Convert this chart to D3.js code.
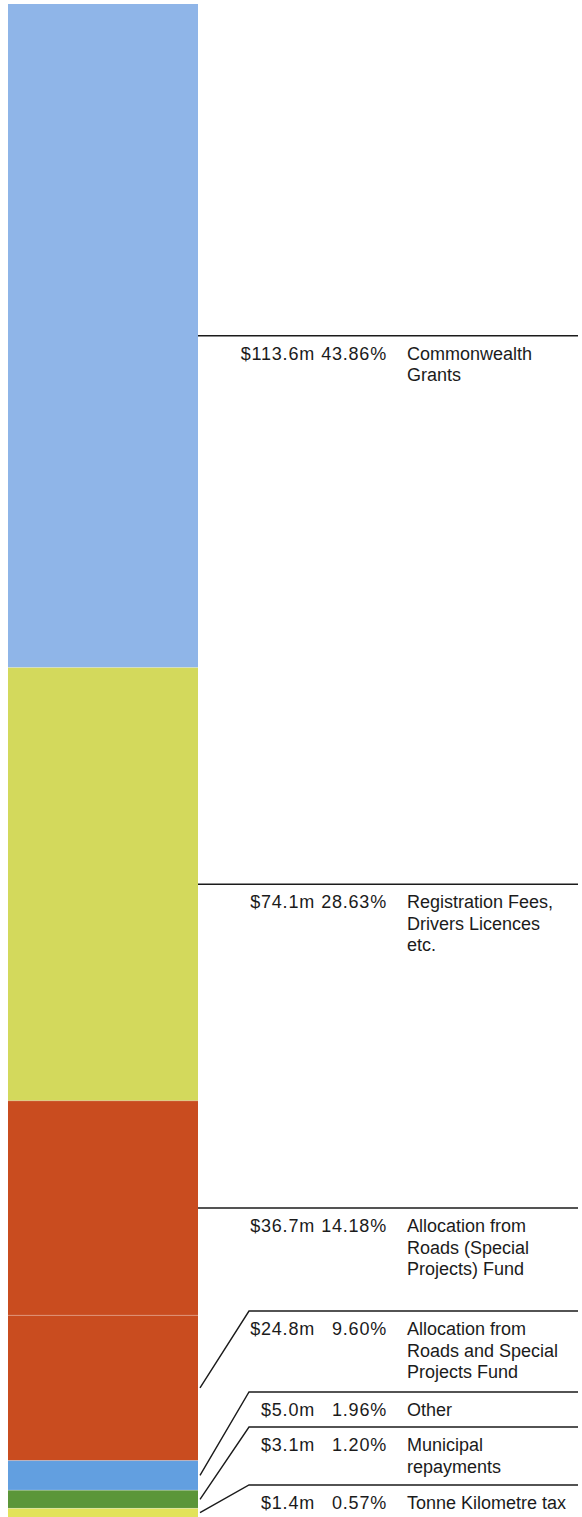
<!DOCTYPE html>
<html>
<head>
<meta charset="utf-8">
<script src="https://cdn.jsdelivr.net/npm/d3@7"></script>
<style>
  html, body { margin: 0; padding: 0; background: #ffffff; }
  svg { display: block; }
  text { font-family: "Liberation Sans", Arial, Helvetica, sans-serif; fill: #1b1b1b; }
</style>
</head>
<body>
<svg id="chart" width="582" height="1517"></svg>
<script>
// ---- data ----
const categories = [
  "Commonwealth\nGrants",
  "Registration Fees,\nDrivers Licences\netc.",
  "Allocation from\nRoads (Special\nProjects) Fund",
  "Allocation from\nRoads and Special\nProjects Fund",
  "Other",
  "Municipal\nrepayments",
  "Tonne Kilometre tax"
];
const amounts = [113.6, 74.1, 36.7, 24.8, 5.0, 3.1, 1.4];          // $m
const percents = [43.86, 28.63, 14.18, 9.60, 1.96, 1.20, 0.57];     // %
const colors = ["#8fb5e8", "#d3d95c", "#c94c1f", "#c94c1f", "#629fe0", "#5b9639", "#e2e35a"];

// ---- layout ----
const W = 582, H = 1517;
const barX0 = 8, barX1 = 198;
const y = d3.scaleLinear().domain([0, 100]).range([4, 1517]);
const lineEnd = 578;
const amountRight = 315, pctRight = 387, nameX = 407;
const lineH = 21.5, baseOff = 24;
const diagDX = 51;

const svg = d3.select("#chart");

let cum = 0;
const segs = percents.map((p, i) => {
  const s = { i, start: cum, end: cum + p };
  cum += p;
  return s;
});

// bars
svg.append("g").selectAll("rect").data(segs).join("rect")
  .attr("x", barX0)
  .attr("y", d => y(d.start))
  .attr("width", barX1 - barX0)
  .attr("height", d => y(d.end) - y(d.start))
  .attr("fill", d => colors[d.i]);

// faint seams between segments
svg.append("g").selectAll("line").data(segs.slice(1)).join("line")
  .attr("x1", barX0).attr("x2", barX1)
  .attr("y1", d => y(d.start)).attr("y2", d => y(d.start))
  .attr("stroke", "#ffffff").attr("stroke-opacity", 0.25).attr("stroke-width", 1);

// label positions: stack from bottom upwards
const nLines = categories.map(c => c.split("\n").length);
const mids = segs.map(d => y((d.start + d.end) / 2));
const lineY = new Array(segs.length);
let limit = H + 3;
for (let i = segs.length - 1; i >= 0; i--) {
  const need = 12 + 23 * nLines[i];
  lineY[i] = Math.min(mids[i], limit - need);
  limit = lineY[i];
}

const labels = svg.append("g").selectAll("g").data(segs).join("g");

labels.append("path")
  .attr("d", d => {
    const ly = lineY[d.i], my = mids[d.i];
    if (Math.abs(ly - my) < 1) {
      return `M${barX1},${my}H${lineEnd}`;
    }
    return `M${barX1 + 2},${my}L${barX1 + diagDX},${ly}H${lineEnd}`;
  })
  .attr("fill", "none")
  .attr("stroke", "#1b1b1b")
  .attr("stroke-width", 1.4);

const fmtAmt = d => "$" + d3.format(".1f")(d) + "m";
const fmtPct = d => d3.format(".2f")(d) + "%";

labels.append("text")
  .attr("x", amountRight)
  .attr("y", d => lineY[d.i] + baseOff)
  .attr("text-anchor", "end")
  .attr("font-size", 18)
  .attr("letter-spacing", 0.8)
  .text(d => fmtAmt(amounts[d.i]));

labels.append("text")
  .attr("x", pctRight)
  .attr("y", d => lineY[d.i] + baseOff)
  .attr("text-anchor", "end")
  .attr("font-size", 18)
  .attr("letter-spacing", 0.8)
  .text(d => fmtPct(percents[d.i]));

labels.append("text")
  .attr("x", nameX)
  .attr("y", d => lineY[d.i] + baseOff)
  .attr("font-size", 18)
  .selectAll("tspan")
  .data(d => categories[d.i].split("\n"))
  .join("tspan")
  .attr("x", nameX)
  .attr("dy", (t, j) => j === 0 ? 0 : lineH)
  .text(t => t);
</script>
</body>
</html>
